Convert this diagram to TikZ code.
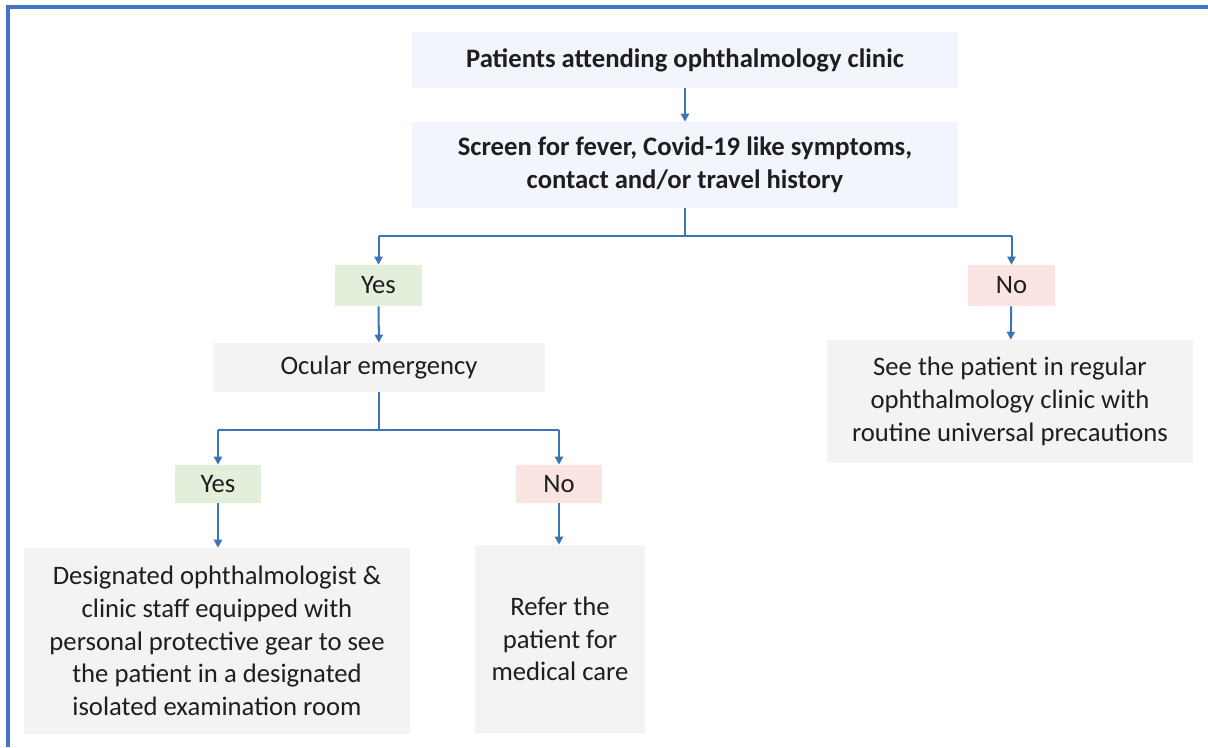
\documentclass[tikz,border=0pt]{standalone}
\usepackage{fontspec}
\setmainfont{Carlito}
\usetikzlibrary{arrows.meta}
\definecolor{frameblue}{HTML}{4472C4}
\definecolor{arrblue}{HTML}{3A74B5}
\definecolor{bluefill}{HTML}{F2F6FC}
\definecolor{greenfill}{HTML}{E3EFDA}
\definecolor{redfill}{HTML}{FBE5E3}
\definecolor{grayfill}{HTML}{F3F3F3}
\definecolor{txt}{HTML}{1E1E1E}
\tikzset{
  box/.style={fill=#1, draw=none, inner sep=0pt, align=center, text=txt,
    font=\fontsize{20}{24.5}\selectfont},
  conn/.style={draw=arrblue, line width=1.5pt},
  arr/.style={conn, -{Triangle[length=6pt,width=6pt]}},
}
\begin{document}
\begin{tikzpicture}[x=0.75pt,y=-0.75pt]
\useasboundingbox (0,0) rectangle (1208,747);
\draw[frameblue, line width=2.4pt] (8,747) -- (8,7) -- (1208,7);

\node[box=bluefill, minimum width=546*0.75pt, minimum height=56*0.75pt, font=\fontsize{20}{24.5}\selectfont\bfseries] (top) at (685,60) {Patients attending ophthalmology clinic};
\node[box=bluefill, minimum width=546*0.75pt, minimum height=86*0.75pt, font=\fontsize{20}{24.5}\selectfont\bfseries] (screen) at (685,165) {Screen for fever, Covid-19 like symptoms,\\contact and/or travel history};
\node[box=greenfill, minimum width=87*0.75pt, minimum height=41*0.75pt] (yes1) at (378.5,285.5) {Yes};
\node[box=redfill, minimum width=87*0.75pt, minimum height=41*0.75pt] (no1) at (1011.5,285.5) {No};
\node[box=grayfill, minimum width=332*0.75pt, minimum height=49*0.75pt] (ocular) at (379,367.5) {Ocular emergency};
\node[box=greenfill, minimum width=86*0.75pt, minimum height=38*0.75pt] (yes2) at (218,484) {Yes};
\node[box=redfill, minimum width=86*0.75pt, minimum height=38*0.75pt] (no2) at (559,484) {No};
\node[box=grayfill, minimum width=386*0.75pt, minimum height=186*0.75pt] (desig) at (217,641) {Designated ophthalmologist \&\\clinic staff equipped with\\personal protective gear to see\\the patient in a designated\\isolated examination room};
\node[box=grayfill, minimum width=170*0.75pt, minimum height=188*0.75pt] (refer) at (560,639) {Refer the\\patient for\\medical care};
\node[box=grayfill, minimum width=366*0.75pt, minimum height=123*0.75pt] (see) at (1010,401.5) {See the patient in regular\\ophthalmology clinic with\\routine universal precautions};

\draw[arr] (top) -- (screen);
\coordinate (br1) at (685,236);
\draw[conn] (screen.south) -- (br1);
\draw[conn] (yes1.north |- br1) -- (no1.north |- br1);
\draw[arr] (yes1.north |- br1) -- (yes1.north);
\draw[arr] (no1.north |- br1) -- (no1.north);
\draw[arr] (yes1) -- (ocular);
\draw[arr] (no1) -- (see);
\coordinate (br2) at (379,430);
\draw[conn] (ocular.south) -- (br2);
\draw[conn] (yes2.north |- br2) -- (no2.north |- br2);
\draw[arr] (yes2.north |- br2) -- (yes2.north);
\draw[arr] (no2.north |- br2) -- (no2.north);
\draw[arr] (yes2) -- (yes2 |- desig.north);
\draw[arr] (no2) -- (no2 |- refer.north);
\end{tikzpicture}
\end{document}
